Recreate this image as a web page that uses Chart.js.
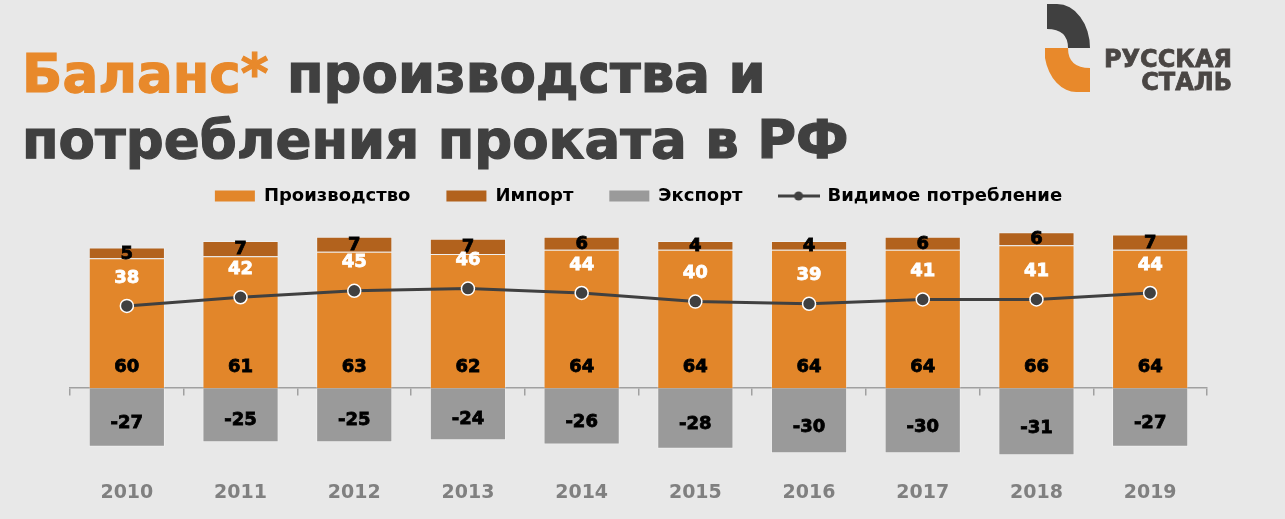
<!DOCTYPE html>
<html lang="ru">
<head>
<meta charset="utf-8">
<title>Баланс производства и потребления проката в РФ</title>
<script src="https://cdn.jsdelivr.net/npm/chart.js@4/dist/chart.umd.min.js"></script>
<style>
  html, body { margin: 0; padding: 0; background: #e8e8e8; }
  #wrap { position: relative; width: 1285px; height: 519px; overflow: hidden; }
  #chart { position: absolute; left: 0; top: 0; }
  #title {
    position: absolute; left: 22px; top: 41px; margin: 0; white-space: nowrap;
    font-family: "DejaVu Sans", sans-serif; font-weight: bold;
    font-size: 53px; line-height: 66px; color: #404040;
    -webkit-text-stroke: 1.2px currentColor;
  }
  #title .hl { color: #e8892b; }
  #logo { position: absolute; left: 1035px; top: 0; }
</style>
</head>
<body>
<div id="wrap">
  <canvas id="chart" width="1285" height="519"></canvas>
  <h1 id="title"><span class="hl">Баланс*</span> производства и<br>потребления проката в РФ</h1>
  <svg id="logo" width="250" height="105" viewBox="0 0 250 105">
    <path d="M12 4 H22 A33 44 0 0 1 55 48 H33 Q33 29 12 29 Z" fill="#404040"/>
    <path d="M10 48 H33 Q33 68 55 68 V92 H42 A32 44 0 0 1 10 58 Z" fill="#e8892b"/>
    <g font-family="DejaVu Sans, sans-serif" font-weight="bold" font-size="24" fill="#4a4644" stroke="#4a4644" stroke-width="0.8" text-anchor="end">
      <text x="197" y="67">РУССКАЯ</text>
      <text x="197" y="90">СТАЛЬ</text>
    </g>
  </svg>
</div>
<script>
const years = ['2010', '2011', '2012', '2013', '2014', '2015', '2016', '2017', '2018', '2019'];
const production = [60, 61, 63, 62, 64, 64, 64, 64, 66, 64];
const imports = [5, 7, 7, 7, 6, 4, 4, 6, 6, 7];
const exports = [-27, -25, -25, -24, -26, -28, -30, -30, -31, -27];
const consumption = [38, 42, 45, 46, 44, 40, 39, 41, 41, 44];

const orange = '#e2862a';
const brown = '#b2621d';
const grey = '#9a9a9a';
const dark = '#404040';
const font = '"DejaVu Sans", sans-serif';

// legend icon for the line series: line with a dot
const lineIcon = document.createElement('canvas');
lineIcon.width = 42;
lineIcon.height = 12;
(function () {
  const c = lineIcon.getContext('2d');
  c.strokeStyle = dark;
  c.lineWidth = 3;
  c.beginPath(); c.moveTo(0, 6); c.lineTo(42, 6); c.stroke();
  c.fillStyle = dark;
  c.beginPath(); c.arc(21, 6, 4.5, 0, Math.PI * 2); c.fill();
})();

const valueLabels = {
  id: 'valueLabels',
  afterDatasetsDraw(chart) {
    const ctx = chart.ctx;
    ctx.save();
    ctx.textAlign = 'center';
    ctx.textBaseline = 'middle';
    ctx.font = 'bold 18px ' + font;
    ctx.lineWidth = 0.8;
    chart.data.datasets.forEach((ds, i) => {
      const meta = chart.getDatasetMeta(i);
      meta.data.forEach((el, j) => {
        const v = ds.data[j];
        let y;
        let col = '#000';
        if (ds.id === 'prod') {
          y = el.base - 21;
        } else if (ds.id === 'imp') {
          y = (el.y + el.base) / 2 + 1;
        } else if (ds.id === 'exp') {
          y = el.base + (el.y - el.base) * 0.6;
        } else {
          y = el.y - 28;
          col = '#fff';
        }
        ctx.fillStyle = col;
        ctx.strokeStyle = col;
        ctx.fillText(String(v), el.x, y);
        ctx.strokeText(String(v), el.x, y);
      });
    });
    ctx.restore();
  }
};

new Chart(document.getElementById('chart'), {
  type: 'bar',
  data: {
    labels: years,
    datasets: [
      {
        id: 'prod', label: 'Производство', data: production,
        backgroundColor: orange, borderColor: 'rgba(255,255,255,0.3)', borderWidth: 1,
        stack: 'bars', order: 1
      },
      {
        id: 'imp', label: 'Импорт', data: imports,
        backgroundColor: brown, borderColor: 'rgba(255,255,255,0.3)', borderWidth: 1,
        stack: 'bars', order: 1
      },
      {
        id: 'exp', label: 'Экспорт', data: exports,
        backgroundColor: grey, borderColor: 'rgba(255,255,255,0.3)', borderWidth: 1,
        stack: 'bars', order: 1
      },
      {
        id: 'cons', type: 'line', label: 'Видимое потребление', data: consumption,
        borderColor: dark, borderWidth: 3, tension: 0,
        pointRadius: 6.5, pointBackgroundColor: dark, pointBorderColor: '#fff', pointBorderWidth: 1.5,
        stack: 'line', order: 0
      }
    ]
  },
  options: {
    responsive: false,
    animation: false,
    layout: { padding: { left: 70, right: 78, top: 151, bottom: 0 } },
    datasets: { bar: { categoryPercentage: 1, barPercentage: 0.67 } },
    scales: {
      x: {
        stacked: true,
        position: { y: 0 },
        offset: true,
        grid: { offset: true, drawOnChartArea: false, tickLength: 7, color: '#a0a0a0', lineWidth: 1.5 },
        border: { color: '#a0a0a0', width: 1.5 },
        ticks: { display: false },
        afterFit(scale) { scale.height = 0; }
      },
      years: {
        type: 'category',
        axis: 'x',
        position: 'bottom',
        offset: true,
        grid: { display: false, drawTicks: false },
        border: { display: false },
        ticks: {
          padding: 18,
          color: '#808080',
          font: { size: 19, weight: 'bold', family: font }
        },
        afterFit(scale) { scale.height = 55; }
      },
      y: {
        stacked: true,
        display: false,
        min: -35,
        max: 80
      }
    },
    plugins: {
      tooltip: { enabled: false },
      legend: {
        position: 'top',
        labels: {
          usePointStyle: true,
          pointStyleWidth: 40,
          boxHeight: 11,
          padding: 36,
          color: '#000',
          font: { size: 18, weight: 'bold', family: font },
          generateLabels(chart) {
            return chart.data.datasets.map((ds, i) => ({
              text: ds.label,
              datasetIndex: i,
              fillStyle: ds.type === 'line' ? dark : ds.backgroundColor,
              strokeStyle: 'rgba(0,0,0,0)',
              lineWidth: 0,
              pointStyle: ds.type === 'line' ? lineIcon : 'rect',
              hidden: false
            }));
          }
        }
      }
    }
  },
  plugins: [valueLabels]
});
</script>
</body>
</html>
